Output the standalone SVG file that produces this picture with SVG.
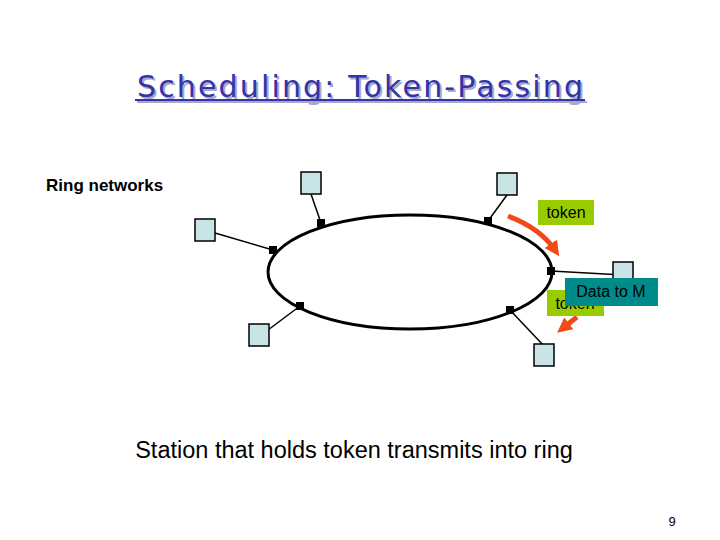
<svg xmlns="http://www.w3.org/2000/svg" width="720" height="540" viewBox="0 0 720 540">
<style>
.st{fill:#c9e4e6;stroke:#000;stroke-width:1.5}
.ln{stroke:#000;stroke-width:1.5}
.dot{fill:#000}
.t{font-family:"Liberation Sans",Arial,sans-serif;fill:#000}
.arr{fill:none;stroke:#f04a1a;stroke-width:5}
</style>
<defs>
<marker id="ah" viewBox="0 0 10 10" refX="5" refY="5" markerWidth="3" markerHeight="3" orient="auto"><path d="M0,0 L10,5 L0,10 z" fill="#f04a1a"/></marker>
</defs>
<rect width="720" height="540" fill="#fff"/>
<g id="title" font-family="DejaVu Sans, sans-serif" font-size="30" xml:space="preserve">
<text x="139" y="99" textLength="446" lengthAdjust="spacing" fill="#a8a8c8">Scheduling:  Token-Passing</text>
<text x="137" y="97" textLength="446" lengthAdjust="spacing" fill="#3333aa">Scheduling:  Token-Passing</text>
<rect x="137" y="101" width="450" height="2" fill="#a8a8c8"/>
<rect x="135" y="99" width="450" height="2" fill="#3333aa"/>
</g>
<text class="t" x="46" y="191" font-size="17" font-weight="bold">Ring networks</text>
<g id="ring"><ellipse cx="410" cy="272" rx="142" ry="57" fill="#fff" stroke="#000" stroke-width="3"/></g>
<g id="connectors">
<line class="ln" x1="311" y1="194" x2="321" y2="223"/>
<line class="ln" x1="507" y1="195" x2="488" y2="221"/>
<line class="ln" x1="215" y1="233" x2="273" y2="250"/>
<line class="ln" x1="551" y1="271" x2="623" y2="275"/>
<line class="ln" x1="268" y1="330" x2="300" y2="306"/>
<line class="ln" x1="544" y1="346" x2="510" y2="310"/>
<rect class="dot" x="317" y="219" width="8" height="8"/>
<rect class="dot" x="484" y="217" width="8" height="8"/>
<rect class="dot" x="269" y="246" width="8" height="8"/>
<rect class="dot" x="547" y="267" width="8" height="8"/>
<rect class="dot" x="296" y="302" width="8" height="8"/>
<rect class="dot" x="506" y="306" width="8" height="8"/>
<path class="arr" d="M508,216 Q540,228 555,250" marker-end="url(#ah)"/>
<path class="arr" d="M577,317 L563,328" marker-end="url(#ah)"/>
</g>
<g id="s1"><rect class="st" x="301" y="172" width="20" height="22"/></g>
<g id="s2"><rect class="st" x="497" y="173" width="20" height="22"/></g>
<g id="s3"><rect class="st" x="195" y="219" width="20" height="22"/></g>
<g id="s4"><rect class="st" x="613" y="262" width="20" height="22"/></g>
<g id="s5"><rect class="st" x="249" y="324" width="20" height="22"/></g>
<g id="s6"><rect class="st" x="534" y="344" width="20" height="22"/></g>
<g id="token1"><rect x="538" y="200" width="56" height="25" fill="#99cc00"/><text class="t" x="566" y="218" font-size="16" text-anchor="middle">token</text></g>
<g id="token2"><rect x="547" y="290" width="57" height="26" fill="#99cc00"/><text class="t" x="575" y="309" font-size="16" text-anchor="middle">token</text></g>
<g id="data"><rect x="565" y="278" width="93" height="28" fill="#008b8b"/><text class="t" x="611" y="297" font-size="16" text-anchor="middle">Data to M</text></g>
<text class="t" x="354" y="458" font-size="23.5" text-anchor="middle">Station that holds token transmits into ring</text>
<text class="t" x="672" y="526" font-size="13" text-anchor="middle">9</text>
</svg>
